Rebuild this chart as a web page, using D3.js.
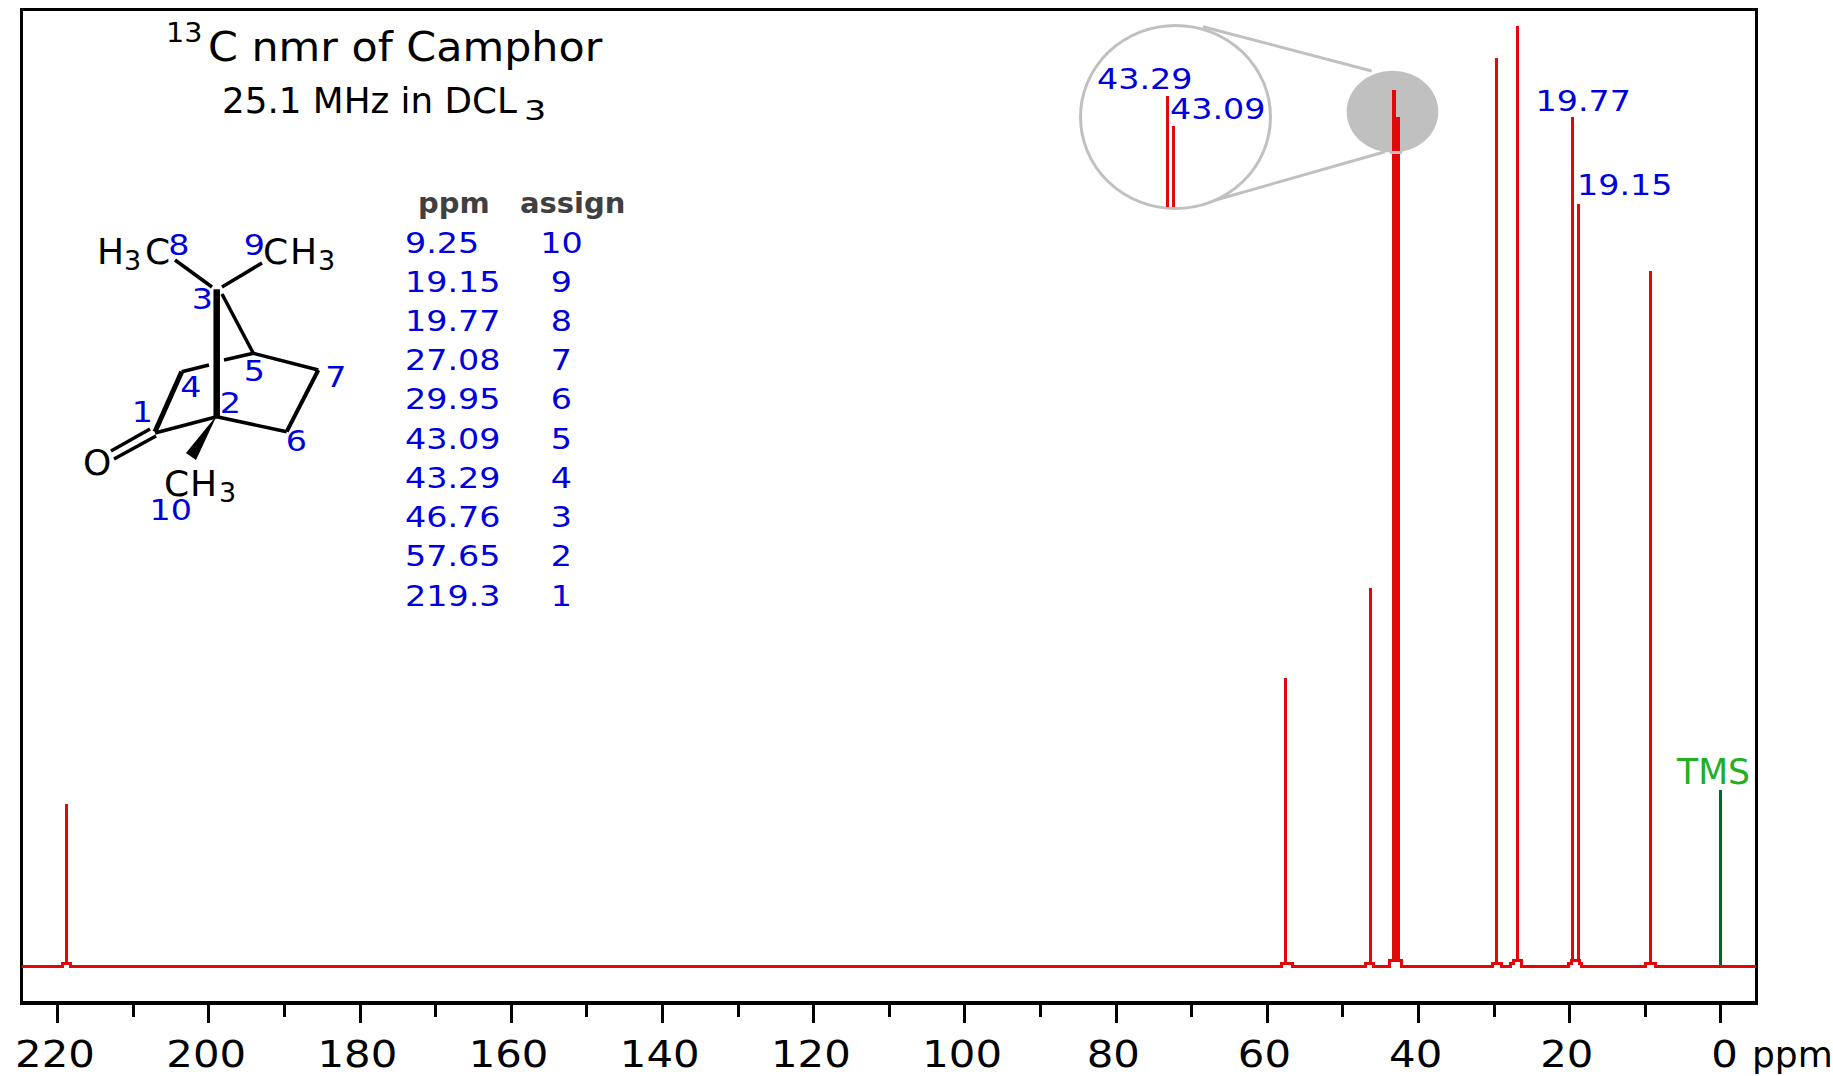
<!DOCTYPE html>
<html>
<head>
<meta charset="utf-8">
<title>13C nmr of Camphor</title>
<script src="https://cdn.jsdelivr.net/npm/d3@7"></script>
<style>
  html, body { margin: 0; padding: 0; background: #fff; overflow: hidden; }
  svg { display: block; font-family: "DejaVu Sans", sans-serif; }
  .crisp line, .crisp path, line.crisp, path.crisp, rect.crisp { shape-rendering: crispEdges; }
</style>
</head>
<body>
<svg id="nmr_chart" width="1833" height="1076"></svg>
<script>
/* global d3, document */

// peak positions as drawn on the ppm axis, and their heights (tallest = 100)
const peakPpm = [218.8, 57.5, 46.3, 43.17, 42.7, 29.63, 26.86, 19.58, 18.79, 9.23];
const peakHeight = [17.3, 30.7, 40.2, 93.2, 90.3, 96.6, 100, 90.3, 81.1, 73.9];
const peakFoot = [0.32, 0.32, 0.32, 0.64, 0.64, 0.32, 0.64, 0.64, 0.64, 0.32];

const tmsPpm = 0;
const tmsHeight = 18.8;

// baseline with the small steps under each peak
const baselinePpm = [224.7, 219.34, 218.23, 58.09, 56.55, 46.96, 45.84, 43.76, 42.15,
  30.14, 29.01, 27.78, 27.38, 26.3, 20.11, 19.75, 18.69, 18.3, 9.83, 8.55, -4.7];
const baselineLevel = [0, 0.32, 0, 0.32, 0, 0.32, 0, 0.64, 0,
  0.32, 0, 0.32, 0.64, 0, 0.32, 0.64, 0.32, 0, 0.32, 0, 0];

const ppmLabels = ['9.25', '19.15', '19.77', '27.08', '29.95', '43.09', '43.29', '46.76', '57.65', '219.3'];
const assignLabels = ['10', '9', '8', '7', '6', '5', '4', '3', '2', '1'];

const majorTicks = [220, 200, 180, 160, 140, 120, 100, 80, 60, 40, 20, 0];
const minorTicks = [210, 190, 170, 150, 130, 110, 90, 70, 50, 30, 10];

// the original lettering is wider than DejaVu, so stretch the glyphs a little
const stretch = (sel, k) => sel.each(function () {
  d3.select(this)
    .attr('textLength', this.getComputedTextLength() * k)
    .attr('lengthAdjust', 'spacingAndGlyphs');
});

document.addEventListener('DOMContentLoaded', () => {

  const red = '#e00808';
  const blue = '#0000dd';
  const gray = '#c0c0c0';

  const svg = d3.select('#nmr_chart');

  const x = d3.scaleLinear().domain([220, 0]).range([57.3, 1720.3]);
  const y = d3.scaleLinear().domain([0, 100]).range([966.4, 26]);

  /* AXIS AND FRAME */
  const axisY = 1003;

  svg.append('rect')
    .attr('class', 'crisp')
    .attr('x', 21.7).attr('y', 9.7)
    .attr('width', 1734.8).attr('height', axisY - 9.7)
    .attr('fill', 'none')
    .attr('stroke', '#000')
    .attr('stroke-width', 3);
  svg.append('line')
    .attr('class', 'crisp')
    .attr('x1', 20).attr('x2', 1758)
    .attr('y1', axisY).attr('y2', axisY)
    .attr('stroke', '#000')
    .attr('stroke-width', 4);

  const majorAxis = svg.append('g')
    .attr('class', 'crisp')
    .attr('transform', `translate(0,${axisY})`)
    .call(d3.axisBottom(x).tickValues(majorTicks).tickSize(20).tickFormat(d3.format('d')));
  const minorAxis = svg.append('g')
    .attr('class', 'crisp')
    .attr('transform', `translate(0,${axisY})`)
    .call(d3.axisBottom(x).tickValues(minorTicks).tickSize(14).tickFormat(''));

  [majorAxis, minorAxis].forEach(a => {
    a.select('.domain').remove();
    a.selectAll('.tick line')
      .attr('stroke', '#000')
      .attr('stroke-width', 3);
  });

  majorAxis.selectAll('.tick text')
    .attr('y', 64)
    .attr('dy', 0)
    .attr('x', d => (d === 0 ? 3.7 : -2.8))
    .attr('fill', '#000')
    .style('font-family', '"DejaVu Sans", sans-serif')
    .style('font-size', '38px')
    .call(stretch, 1.1);

  svg.append('text')
    .attr('x', 1752).attr('y', 1067)
    .attr('font-size', 36)
    .text('ppm');

  /* MAGNIFIER BEHIND THE PEAKS */
  svg.append('ellipse')
    .attr('cx', 1392.5).attr('cy', 111.7)
    .attr('rx', 45.8).attr('ry', 41)
    .attr('fill', gray);

  const connectors = [[1203, 26.7, 1371.7, 71], [1200, 204.5, 1385, 151.7]];
  svg.append('g')
    .selectAll('line')
    .data(connectors)
    .enter()
      .append('line')
        .attr('x1', d => d[0]).attr('y1', d => d[1])
        .attr('x2', d => d[2]).attr('y2', d => d[3])
        .attr('stroke', gray)
        .attr('stroke-width', 3);

  svg.append('ellipse')
    .attr('cx', 1175.5).attr('cy', 117)
    .attr('rx', 95).attr('ry', 91.6)
    .attr('fill', '#fff')
    .attr('stroke', gray)
    .attr('stroke-width', 3);

  /* SPECTRUM */
  svg.append('line')
    .attr('class', 'crisp')
    .attr('x1', x(tmsPpm)).attr('x2', x(tmsPpm))
    .attr('y1', y(0)).attr('y2', y(tmsHeight))
    .attr('stroke', '#006a1c')
    .attr('stroke-width', 3);

  const baseline = d3.line()
    .x(d => x(baselinePpm[d]))
    .y(d => y(baselineLevel[d]))
    .curve(d3.curveStepAfter);

  svg.append('path')
    .attr('class', 'crisp')
    .attr('d', baseline(d3.range(baselinePpm.length)))
    .attr('fill', 'none')
    .attr('stroke', red)
    .attr('stroke-width', 3);

  const doublet = [3, 4];

  svg.append('g')
    .attr('class', 'crisp')
    .selectAll('line')
    .data(peakPpm)
    .enter()
      .append('line')
        .attr('x1', d => x(d)).attr('x2', d => x(d))
        .attr('y1', (d, i) => y(peakFoot[i]))
        .attr('y2', (d, i) => y(peakHeight[i]))
        .attr('stroke', red)
        .attr('stroke-width', (d, i) => (doublet.includes(i) ? 4 : 3));

  // bit of the grey disc edge crossing the doublet
  svg.append('line')
    .attr('class', 'crisp')
    .attr('x1', 1390).attr('x2', 1402)
    .attr('y1', 152).attr('y2', 152)
    .attr('stroke', gray)
    .attr('stroke-width', 3);

  /* ENLARGED DOUBLET */
  const insetX = d3.scaleLinear().domain([peakPpm[3], peakPpm[4]]).range([1167.3, 1173.3]);
  const insetY = d3.scaleLinear().domain([82.5, 93.2]).range([207, 96]);

  svg.append('g')
    .attr('class', 'crisp')
    .selectAll('line')
    .data(doublet)
    .enter()
      .append('line')
        .attr('x1', d => insetX(peakPpm[d])).attr('x2', d => insetX(peakPpm[d]))
        .attr('y1', 207)
        .attr('y2', d => insetY(peakHeight[d]))
        .attr('stroke', red)
        .attr('stroke-width', 3);

  /* BLUE PEAK LABELS */
  const smallBlue = (px, py, txt) => svg.append('text')
    .attr('x', px).attr('y', py)
    .attr('font-size', 29)
    .attr('fill', blue)
    .text(txt)
    .call(stretch, 1.15);

  smallBlue(1097, 89, '43.29');
  smallBlue(1170, 119, '43.09');
  smallBlue(1535.5, 111, '19.77');
  smallBlue(1577, 195, '19.15');

  svg.append('text')
    .attr('x', 1677).attr('y', 784)
    .attr('font-size', 36)
    .attr('textLength', 73)
    .attr('lengthAdjust', 'spacingAndGlyphs')
    .attr('fill', '#20b020')
    .text('TMS');

  /* TITLE */
  const plain = (px, py, size, txt, k) => svg.append('text')
    .attr('x', px).attr('y', py)
    .attr('font-size', size)
    .attr('fill', '#000')
    .text(txt)
    .call(stretch, k);

  plain(166, 42, 26, '13', 1.1);
  plain(208, 61, 40, 'C nmr of Camphor', 1.07);
  plain(222, 113, 35, '25.1 MHz in DCL', 1.02);
  plain(524, 120, 27, '3', 1.3);

  /* ASSIGNMENT TABLE */
  svg.append('text')
    .attr('x', 418).attr('y', 213)
    .attr('font-size', 29).attr('font-weight', 'bold')
    .attr('fill', '#404040')
    .text('ppm');
  svg.append('text')
    .attr('x', 520).attr('y', 213)
    .attr('font-size', 29).attr('font-weight', 'bold')
    .attr('fill', '#404040')
    .text('assign');

  const rowY = d3.scalePoint().domain(d3.range(ppmLabels.length)).range([252.5, 605.5]);

  svg.append('g')
    .selectAll('text')
    .data(ppmLabels)
    .enter()
      .append('text')
        .attr('x', 405)
        .attr('y', (d, i) => rowY(i))
        .attr('font-size', 29)
        .attr('fill', blue)
        .text(d => d)
        .call(stretch, 1.15);

  svg.append('g')
    .selectAll('text')
    .data(assignLabels)
    .enter()
      .append('text')
        .attr('x', 561.5)
        .attr('y', (d, i) => rowY(i))
        .attr('text-anchor', 'middle')
        .attr('font-size', 29)
        .attr('fill', blue)
        .text(d => d)
        .call(stretch, 1.15);

  /* CAMPHOR STRUCTURE */
  const mol = svg.append('g').attr('stroke', '#000').attr('fill', 'none');

  const bonds = [
    [216.7, 289.3, 216.7, 416.7, 6.5],  // 3-2 bridge
    [175, 260, 212, 287, 3.5],          // 3-8
    [262, 263, 222, 287, 3.5],          // 3-9
    [222, 294, 253.3, 353.3, 3.5],      // 3-5
    [181.7, 371.7, 209, 365, 3.5],      // 4-5 back, broken by the bridge
    [224, 360, 253.3, 353.3, 3.5],
    [253.3, 353.3, 318.3, 370, 3.5],    // 5-7
    [318.3, 370, 286.7, 431.7, 4],      // 7-6
    [216.7, 416.7, 286.7, 431.7, 3.5],  // 2-6
    [216.7, 416.7, 155, 433, 3.5],      // 2-1
    [181.7, 371.7, 155, 431.7, 5],      // 4-1
    [111, 451, 150, 429, 3.5],          // C=O
    [114, 459, 156, 436, 3.5],
  ];

  mol.selectAll('line')
    .data(bonds)
    .enter()
      .append('line')
        .attr('x1', d => d[0]).attr('y1', d => d[1])
        .attr('x2', d => d[2]).attr('y2', d => d[3])
        .attr('stroke-width', d => d[4]);

  // wedge to the C10 methyl
  mol.append('path')
    .attr('d', 'M217 415 L186 453 L196 460 Z')
    .attr('fill', '#000')
    .attr('stroke', 'none');

  const atoms = [
    ['H', 97, 264, 36], ['3', 124, 270, 27], ['C', 145, 264, 36],
    ['C', 263, 264, 36], ['H', 290, 264, 36], ['3', 318, 270, 27],
    ['C', 164, 496, 36], ['H', 190, 496, 36], ['3', 219, 502, 27],
    ['O', 83, 475, 36],
  ];

  svg.append('g')
    .selectAll('text')
    .data(atoms)
    .enter()
      .append('text')
        .attr('x', d => d[1]).attr('y', d => d[2])
        .attr('font-size', d => d[3])
        .text(d => d[0]);

  const numbers = [
    ['8', 179, 255], ['9', 254.5, 255], ['3', 202.5, 309], ['5', 254.5, 381], ['7', 336, 387],
    ['4', 191, 397], ['2', 230.5, 413], ['1', 142.5, 421.7], ['6', 296.5, 451], ['10', 170.7, 520],
  ];

  svg.append('g')
    .selectAll('text')
    .data(numbers)
    .enter()
      .append('text')
        .attr('x', d => d[1]).attr('y', d => d[2])
        .attr('text-anchor', 'middle')
        .attr('font-size', 29)
        .attr('fill', blue)
        .text(d => d[0])
        .call(stretch, 1.15);
});
</script>
</body>
</html>
